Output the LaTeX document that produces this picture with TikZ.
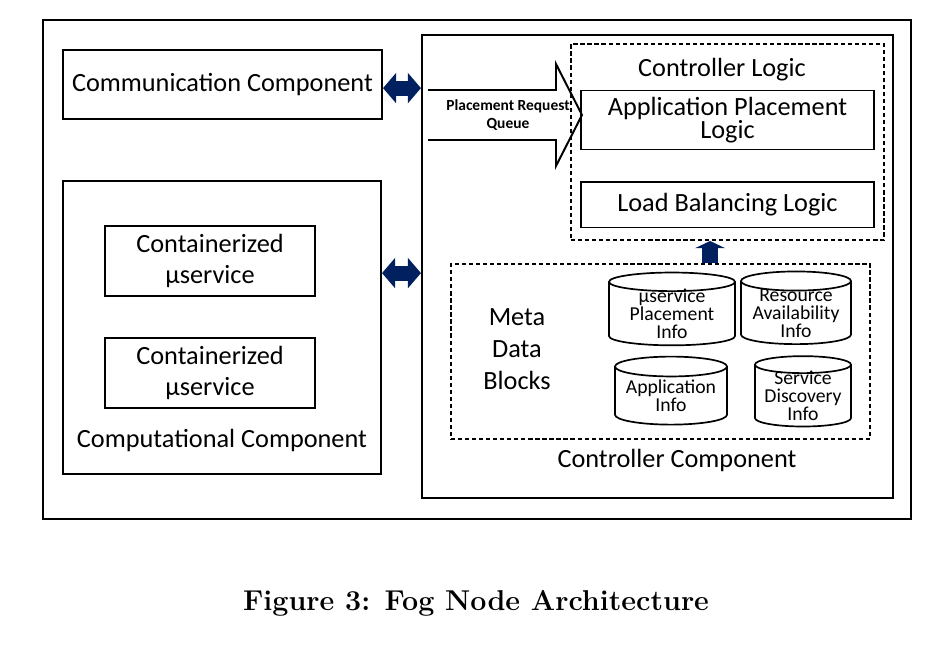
\documentclass[tikz,border=0pt]{standalone}
\usepackage{fontspec}
\newfontfamily\calibri{Carlito}
\usepackage{xcolor}
\usetikzlibrary{arrows.meta,positioning,shapes,calc}
\definecolor{navy}{RGB}{0,32,96}
\newcommand{\tightlines}{\lineskiplimit=-20pt\relax}

\begin{document}
\begin{tikzpicture}[x=0.025cm,y=-0.025cm,
	box/.style={draw,line width=1.4pt,inner sep=0pt,align=center,
		font=\calibri\fontsize{18.7}{22.7}\selectfont},
	dashbox/.style={draw,line width=1.4pt,dash pattern=on 3pt off 2pt,inner sep=0pt},
	txt/.style={inner sep=0pt,align=center,font=\calibri\fontsize{18.7}{22.7}\selectfont},
	db/.style={cylinder,shape border rotate=90,aspect=0.22,draw,line width=1.2pt,
		inner xsep=0pt,inner ysep=-2pt,align=center,minimum height=1.7cm,
		font=\calibri\fontsize{14}{12.8}\selectfont\tightlines},
	link/.style={navy,line width=0.375cm,
		{Triangle[length=0.33cm,width=0.75cm]}-{Triangle[length=0.33cm,width=0.75cm]}}]

    \useasboundingbox (0,0) rectangle (948,648);

    % frames
    \node[box,minimum width=21.7cm,minimum height=12.475cm] (fog) at (477,269.5) {};
    \node[box,minimum width=7.975cm,minimum height=1.725cm] (comm) at (222.5,84.5) {Communication Component};
    \node[box,minimum width=7.95cm,minimum height=7.325cm] (comp) at (222,327.5) {};
    \node[box,minimum width=5.25cm,minimum height=1.75cm] (cont1) at (210,261) {Containerized\\µservice};
    \node[box,minimum width=5.25cm,minimum height=1.75cm] (cont2) [below = 1cm of cont1] {Containerized\\µservice};
    \node[txt] (complabel) at (222,440) {Computational Component};

    \node[box,minimum width=11.775cm,minimum height=11.575cm] (ctrl) at (657.5,266.5) {};
    \node[txt] (ctrllabel) at (677,460) {Controller Component};

    % controller logic
    \node[dashbox,minimum width=7.825cm,minimum height=4.9cm] (logic) at (727.5,142) {};
    \node[txt] (logiclabel) at (722,70) {Controller Logic};
    \node[box,minimum width=7.325cm,minimum height=1.475cm,
    	font=\calibri\fontsize{18.7}{16.5}\selectfont\tightlines] (place) at (727.5,120) {Application Placement\\Logic};
    \node[box,minimum width=7.325cm,minimum height=1.125cm] (lb) [below = 0.775cm of place] {Load Balancing Logic};

    % meta data
    \node[dashbox,minimum width=10.475cm,minimum height=4.375cm] (meta) at (660.5,351.5) {};
    \node[txt] (metalabel) at (517,349) {Meta\\Data\\Blocks};
    \node[db,minimum width=3.15cm] (db1) at (672,314) {µservice\\Placement\\Info};
    \node[db,minimum width=2.75cm] (db2) at (796,313) {Resource\\Availability\\Info};
    \node[db,minimum width=2.8cm] (db3) at (671,396) {Application\\Info};
    \node[db,minimum width=2.4cm] (db4) at (803,396) {Service\\Discovery\\Info};

    % request queue
    \draw[line width=1.4pt,line join=miter] (428,90) -- (556,90) -- (556,64) -- (582,115)
    	-- (556,166) -- (556,140) -- (428,140);
    \node[inner sep=0pt,align=center,font=\calibri\bfseries\fontsize{11}{12.8}\selectfont]
    	(queue) at (508,115) {Placement Request\\Queue};

    % links
    \coordinate (commport) at ([yshift=-0.09cm]comm.east);
    \coordinate (compport) at ([yshift=1.36cm]comp.east);
    \coordinate (metaport) at ([xshift=1.24cm]meta.north);
    \draw[link] (commport) -- (commport -| ctrl.west);
    \draw[link] (compport) -- (compport -| ctrl.west);
    \draw[navy,line width=0.4cm,-{Triangle[length=0.18cm,width=0.75cm]}] (metaport) -- (metaport |- logic.south);

    \node[font=\bfseries\fontsize{20.4}{24}\selectfont] (caption) at (476,603) {Figure 3: Fog Node Architecture};

\end{tikzpicture}
\end{document}
